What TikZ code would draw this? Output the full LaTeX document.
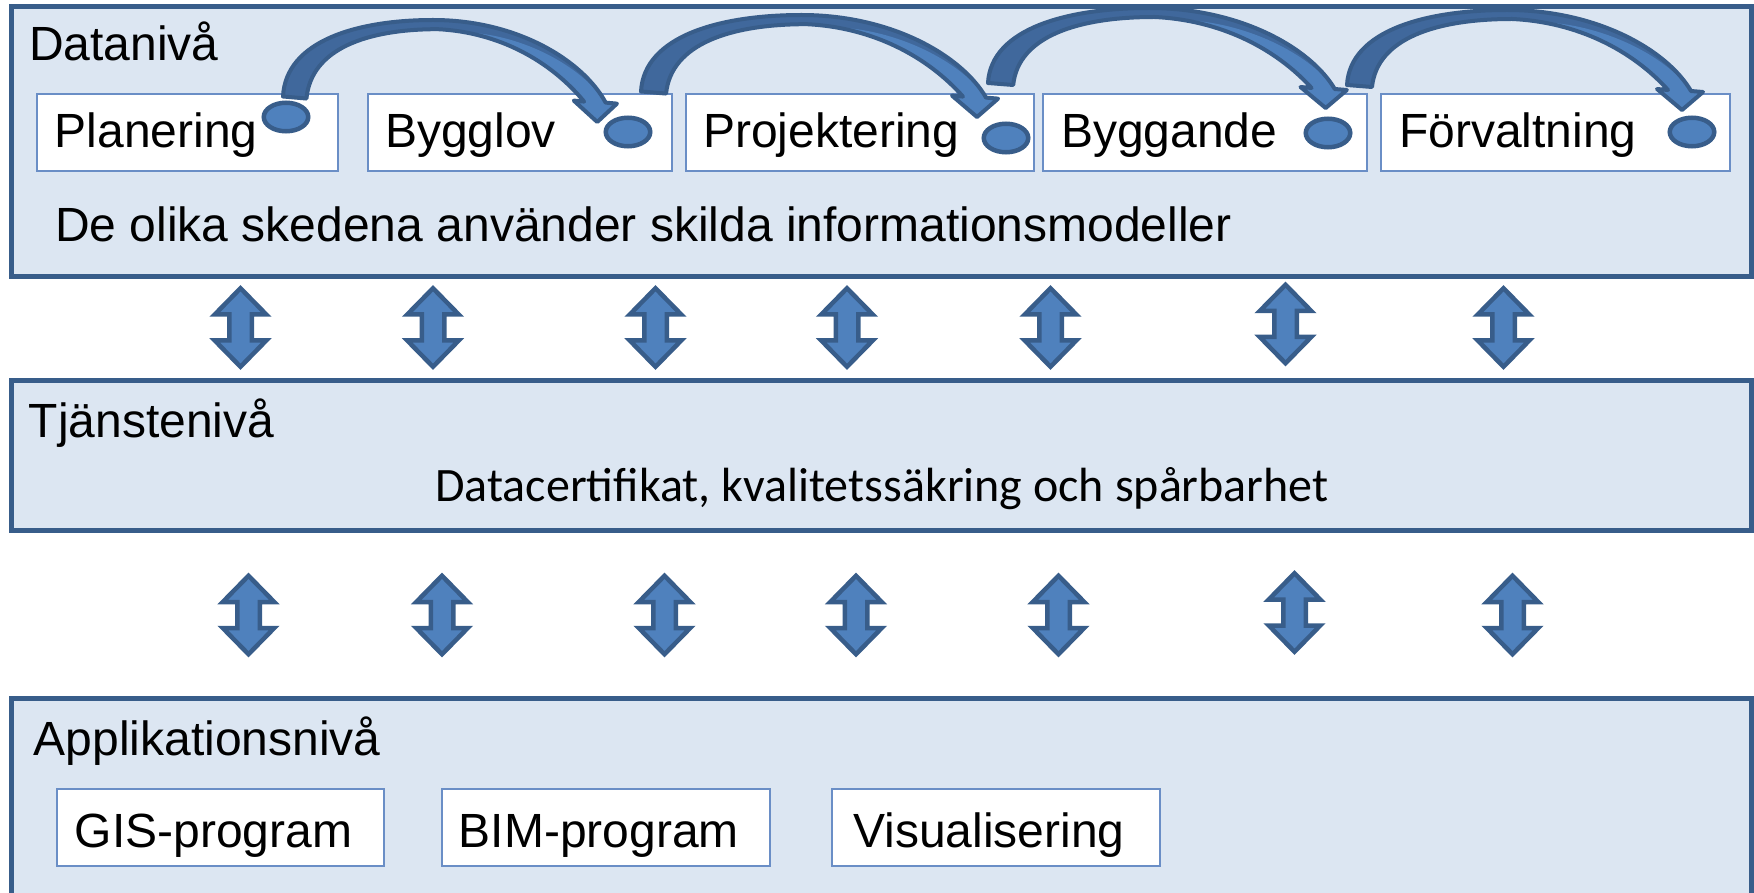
\documentclass[tikz,border=0pt]{standalone}
\usepackage{fontspec}
\setmainfont{Liberation Sans}
\newfontfamily\calibrifont{Carlito}
\usetikzlibrary{shapes.geometric}

\definecolor{panelfill}{HTML}{DCE6F2}
\definecolor{panelline}{HTML}{385D8A}
\definecolor{accent}{HTML}{4F81BD}
\definecolor{accentdark}{HTML}{40689C}
\definecolor{boxline}{HTML}{6A8EC6}

% Outline of a curved block arrow (tail at left, head at lower right), y axis pointing down
\newcommand\arcpath{(0,75) .. controls (3,20) and (80,0) .. (160,0)
  .. controls (250,0) and (320,40) .. (344,81) -- (356,82) -- (335,100) -- (310,79) -- (321,80)
  .. controls (285,40) and (230,12) .. (165,9) .. controls (90,9) and (30,28) .. (25,77) -- cycle}

% \blockarc{x}{y}{xscale}{yscale}
\newcommand\blockarc[4]{%
  \begin{scope}[shift={(#1,#2)}, xscale=#3, yscale=#4]
    \fill[accentdark] \arcpath;
    \begin{scope}
      \clip \arcpath;
      \fill[accent] (193,12) .. controls (255,14) and (318,45) .. (344,81)
        -- (420,81) -- (420,140) -- (280,140) -- (193,40) -- cycle;
    \end{scope}
    \draw[panelline, line width=4pt, line join=round] \arcpath;
  \end{scope}}

\begin{document}
\begin{tikzpicture}[x=1pt, y=-1pt,
  panel/.style={rectangle, fill=panelfill, draw=panelline, line width=5pt, inner sep=0pt},
  stagebox/.style={rectangle, draw=boxline, fill=white, line width=2pt, inner sep=0pt, minimum height=77pt},
  lbl/.style={font=\fontsize{48}{58}\selectfont, inner sep=0pt, anchor=base west},
  dot/.style={ellipse, draw=panelline, fill=accent, line width=4.5pt, minimum width=44.5pt, minimum height=28.5pt, inner sep=0pt},
  dblarrow/.pic={\draw[fill=accent, draw=panelline, line width=4.5pt, line join=miter]
    (0,-39.25) -- (25.75,-13) -- (11.25,-13) -- (11.25,13) -- (25.75,13) -- (0,39.25)
    -- (-25.75,13) -- (-11.25,13) -- (-11.25,-13) -- (-25.75,-13) -- cycle;}
]
\useasboundingbox (0,0) rectangle (1754,893);
\begin{scope}
\clip (0,0) rectangle (1754,893);

% the three layers
\node[panel, minimum width=1740pt, minimum height=270.5pt] (datalayer) at (881,141.75) {};
\node[panel, minimum width=1740pt, minimum height=150pt] (servicelayer) at (881,455) {};
\node[panel, minimum width=1740pt, minimum height=260pt] (applayer) at (881,828) {};

% data level
\node[lbl] (datatitle) at (29,61) {Datanivå};
\node[stagebox, minimum width=301pt] (s1) at (187.5,132.5) {};
\node[stagebox, minimum width=304pt] (s2) at (520,132.5) {};
\node[stagebox, minimum width=348pt] (s3) at (860,132.5) {};
\node[stagebox, minimum width=324pt] (s4) at (1205,132.5) {};
\node[stagebox, minimum width=349pt] (s5) at (1555.5,132.5) {};
\node[lbl] at ([shift={(18.5,15.5)}]s1.west) {Planering};
\node[lbl] at ([shift={(18,15.5)}]s2.west) {Bygglov};
\node[lbl] at ([shift={(18,15.5)}]s3.west) {Projektering};
\node[lbl] at ([shift={(19,15.5)}]s4.west) {Byggande};
\node[lbl] at ([shift={(19,15.5)}]s5.west) {Förvaltning};

% flow between the stages
\blockarc{283}{20}{0.938}{1.02}
\blockarc{641}{15}{1.003}{1.02}
\blockarc{988}{8}{1.008}{1.0}
\blockarc{1347}{10}{1.0}{1.0}

\node[dot] (m1) at (286,117) {};
\node[dot] (m2) at (628,132) {};
\node[dot] (m3) at (1006,138) {};
\node[dot] (m4) at (1328,133) {};
\node[dot] (m5) at (1692,132) {};

\node[lbl] (datanote) at (55,242) {De olika skedena använder skilda informationsmodeller};

% service level
\node[lbl] (servicetitle) at (28.5,437) {Tjänstenivå};
\node[font=\calibrifont\fontsize{48}{58}\selectfont, inner sep=0pt, anchor=base] (servicenote) at (882,501)
  {Datacertifikat, kvalitetssäkring och spårbarhet};

% application level
\node[lbl] (apptitle) at (33.5,755) {Applikationsnivå};
\node[stagebox, minimum width=327pt] (a1) at (220.5,827.5) {};
\node[stagebox, minimum width=328pt] (a2) at (606,827.5) {};
\node[stagebox, minimum width=328pt] (a3) at (996,827.5) {};
\node[lbl] at ([shift={(18.5,19.5)}]a1.west) {GIS-program};
\node[lbl] at ([shift={(17.5,19.5)}]a2.west) {BIM-program};
\node[lbl] at ([shift={(22,19.5)}]a3.west) {Visualisering};

% exchange between the levels
\pic (u1) at (240.5,327.5) {dblarrow};
\pic (u2) at (433,327.5) {dblarrow};
\pic (u3) at (655.5,327.5) {dblarrow};
\pic (u4) at (847,327.5) {dblarrow};
\pic (u5) at (1050.5,327.5) {dblarrow};
\pic (u6) at (1285.5,324) {dblarrow};
\pic (u7) at (1503.5,327.5) {dblarrow};

\pic (l1) at (248.5,615) {dblarrow};
\pic (l2) at (442,615) {dblarrow};
\pic (l3) at (664.5,615) {dblarrow};
\pic (l4) at (856,615) {dblarrow};
\pic (l5) at (1058.5,615) {dblarrow};
\pic (l6) at (1294.5,612.5) {dblarrow};
\pic (l7) at (1512.5,615) {dblarrow};
\end{scope}
\end{tikzpicture}
\end{document}
